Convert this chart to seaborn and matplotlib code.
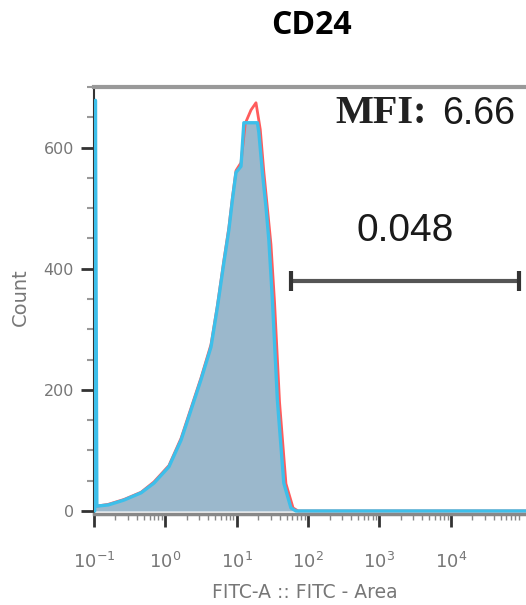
import numpy as np
import pandas as pd
import seaborn as sns
import matplotlib.pyplot as plt
from matplotlib.ticker import FixedLocator, LogLocator, LogFormatterMathtext, MultipleLocator

# histogram outlines, x in decades (log10 FITC-A), y = count
cyan_log = [-0.99, -0.98, -0.96, -0.80, -0.58, -0.34, -0.16, 0.05, 0.22, 0.36, 0.50,
            0.64, 0.73, 0.82, 0.89, 0.94, 0.99, 1.06, 1.10, 1.29, 1.31, 1.36, 1.41,
            1.45, 1.50, 1.57, 1.66, 1.76, 1.83, 5.11]
cyan_count = [0, 678, 8, 10, 18, 30, 46, 73, 117, 167, 217,
              271, 337, 410, 464, 514, 559, 569, 641, 641, 625, 559, 502,
              448, 349, 183, 46, 5, 0, 0]

red_log = [-0.96, -0.80, -0.58, -0.34, -0.16, 0.05, 0.22, 0.36, 0.50,
           0.64, 0.73, 0.82, 0.89, 0.94, 0.99, 1.06, 1.12, 1.20, 1.27, 1.33, 1.38,
           1.43, 1.48, 1.53, 1.60, 1.69, 1.79, 1.86, 5.11]
red_count = [8, 11, 19, 31, 48, 75, 120, 170, 220,
             275, 340, 414, 468, 518, 562, 575, 640, 662, 674, 630, 560,
             500, 440, 345, 180, 45, 5, 0, 0]

x_decades = [0.1, 1, 10, 100, 1000, 10000]
gate_x = [57, 90800]
gate_y = 380
gate_label = "0.048"
mfi_value = "6.66"

cyan = pd.DataFrame({"FITC": 10 ** np.array(cyan_log), "Count": cyan_count})
red = pd.DataFrame({"FITC": 10 ** np.array(red_log), "Count": red_count})

sns.set_style("white")
plt.rcParams['font.family'] = ['DejaVu Sans']
plt.rcParams['mathtext.default'] = 'regular'

fig = plt.figure(figsize=(5.26, 6.05), dpi=100)
ax = fig.add_axes([94 / 526, 1 - 514 / 605, (530 - 94) / 526, 427 / 605])
ax.set_xscale('log')
ax.set_xlim(10 ** -1, 10 ** 5.11)
ax.set_ylim(-5, 700)

# filled histogram + outlines
ax.fill_between(cyan["FITC"], cyan["Count"], 0, color="#9bb8cc", lw=0, zorder=1)
sns.lineplot(data=red, x="FITC", y="Count", ax=ax, color="#ff5c5c", lw=2,
             estimator=None, sort=False, zorder=2)
sns.lineplot(data=cyan, x="FITC", y="Count", ax=ax, color="#3dbfea", lw=2.4,
             estimator=None, sort=False, zorder=3)

# gate bar
ax.plot(gate_x, [gate_y, gate_y], color="#555555", lw=3, solid_capstyle='butt')
ax.plot(gate_x, [gate_y, gate_y], ls='none', marker='|', ms=14, mew=3, color="#333333")
ax.text(10 ** 3.36, 463, gate_label, ha='center', va='center',
        fontsize=28, family='Liberation Sans', color='#1a1a1a')

# MFI label
ax.text(10 ** 3.66, 656, "MFI:", ha='right', va='center', fontsize=29,
        family='Liberation Serif', fontweight='bold', color='#222222')
ax.text(10 ** 4.90, 656, mfi_value, ha='right', va='center', fontsize=27,
        family='Liberation Sans', color='#1a1a1a')

# axes styling
for s in ['top', 'left', 'bottom']:
    ax.spines[s].set_visible(True)
ax.spines['top'].set_color('#999999')
ax.spines['top'].set_linewidth(3)
ax.spines['left'].set_color('#333333')
ax.spines['left'].set_linewidth(1.5)
ax.spines['bottom'].set_color('#888888')
ax.spines['bottom'].set_linewidth(2.5)
ax.spines['right'].set_visible(False)

ax.xaxis.set_major_locator(FixedLocator(x_decades))
ax.xaxis.set_minor_locator(LogLocator(base=10, subs=np.arange(2, 10), numticks=20))
ax.xaxis.set_major_formatter(LogFormatterMathtext())
ax.yaxis.set_major_locator(MultipleLocator(200))
ax.yaxis.set_minor_locator(MultipleLocator(50))

ax.tick_params(axis='x', which='major', direction='out', length=9, width=2,
               color='#333333', labelsize=13, labelcolor='#777777', pad=18, bottom=True)
ax.tick_params(axis='x', which='minor', direction='out', length=4, width=1,
               color='#888888', bottom=True)
ax.tick_params(axis='y', which='major', direction='out', length=9.5, width=2,
               color='#333333', labelsize=11.5, labelcolor='#777777', pad=5, left=True)
ax.tick_params(axis='y', which='minor', direction='out', length=5, width=1.5,
               color='#999999', left=True)

ax.set_xlabel("FITC-A :: FITC - Area", fontsize=13.5, color='#777777')
ax.set_ylabel("Count", fontsize=14, color='#777777')
ax.xaxis.set_label_coords((305 - 94) / 436, -(583 - 514) / 427)
ax.yaxis.set_label_coords(-(94 - 30) / 436, (514 - 297) / 427)

fig.text(311 / 526, 1 - 25 / 605, "CD24", ha='center', va='center', fontsize=23,
         family='Open Sans', fontweight='bold', color='black')

fig.savefig("out.png", dpi=100)
